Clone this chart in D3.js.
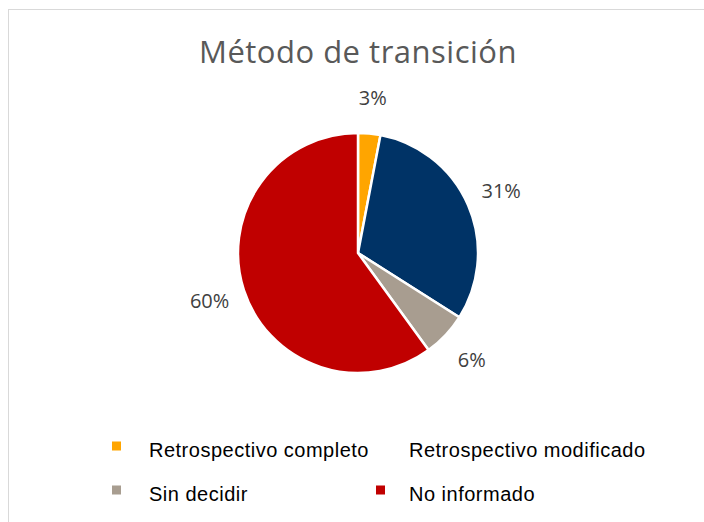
<!DOCTYPE html>
<html>
<head>
<meta charset="utf-8">
<script src="https://cdn.jsdelivr.net/npm/d3@7"></script>
<style>
  html, body { margin: 0; padding: 0; background: #fff; }
  svg { display: block; }
</style>
</head>
<body>
<svg id="grafico" width="704" height="522"></svg>
<script>
/* datos del gráfico */
const titulo = "Método de transición";
const categorias = ["Retrospectivo completo", "Retrospectivo modificado", "Sin decidir", "No informado"];
const valores = [3, 31, 6, 60];
const colores = ["#FFA500", "#003366", "#A89D90", "#C00000"];
const etiquetas = ["3%", "31%", "6%", "60%"];

const svg = d3.select("#grafico");
const width = 704, height = 522;

/* marco del área del gráfico (sigue fuera de la imagen) */
svg.append("rect")
  .attr("x", 8.5).attr("y", 9.5)
  .attr("width", 720).attr("height", 540)
  .attr("fill", "#fff")
  .attr("stroke", "#D9D9D9");

/* título */
svg.append("text")
  .attr("x", 358).attr("y", 63)
  .attr("text-anchor", "middle")
  .attr("font-family", "'Open Sans', sans-serif")
  .attr("font-size", "31px")
  .attr("letter-spacing", "0.5px")
  .attr("fill", "#595959")
  .text(titulo);

/* torta */
const cx = 358, cy = 253, radio = 120;
const pie = d3.pie().sort(null).value(d => d.valor);
const datos = categorias.map((c, i) => ({ categoria: c, valor: valores[i], color: colores[i], etiqueta: etiquetas[i] }));
const arcos = pie(datos);

const arco = d3.arc().innerRadius(0).outerRadius(radio);
const arcoEtiqueta = d3.arc().innerRadius(156).outerRadius(156);

const g = svg.append("g").attr("transform", `translate(${cx},${cy})`);

g.selectAll("path")
  .data(arcos)
  .join("path")
  .attr("d", arco)
  .attr("fill", d => d.data.color)
  .attr("stroke", "#fff")
  .attr("stroke-width", 2.5)
  .attr("stroke-linejoin", "round");

g.selectAll("text")
  .data(arcos)
  .join("text")
  .attr("transform", d => `translate(${arcoEtiqueta.centroid(d)})`)
  .attr("text-anchor", "middle")
  .attr("dy", "0.36em")
  .attr("font-family", "'Open Sans', sans-serif")
  .attr("font-size", "20px")
  .attr("fill", "#404040")
  .text(d => d.data.etiqueta);

/* leyenda en dos columnas */
const marcaX = [112, 376];
const textoX = [149, 409];
const filaY = [446, 490];
const leyenda = svg.append("g")
  .selectAll("g")
  .data(datos)
  .join("g")
  .attr("transform", (d, i) => `translate(0,${filaY[Math.floor(i / 2)]})`);

leyenda.filter(d => d.categoria !== "Retrospectivo modificado")
  .append("rect")
  .attr("x", d => marcaX[categorias.indexOf(d.categoria) % 2])
  .attr("y", -4.5)
  .attr("width", 9).attr("height", 9)
  .attr("fill", d => d.color);

leyenda.append("text")
  .attr("x", (d, i) => textoX[i % 2])
  .attr("y", 11)
  .attr("font-family", "'Liberation Sans', Arial, sans-serif")
  .attr("font-size", "20px")
  .attr("letter-spacing", "0.5px")
  .attr("fill", "#000")
  .text(d => d.categoria);
</script>
</body>
</html>
